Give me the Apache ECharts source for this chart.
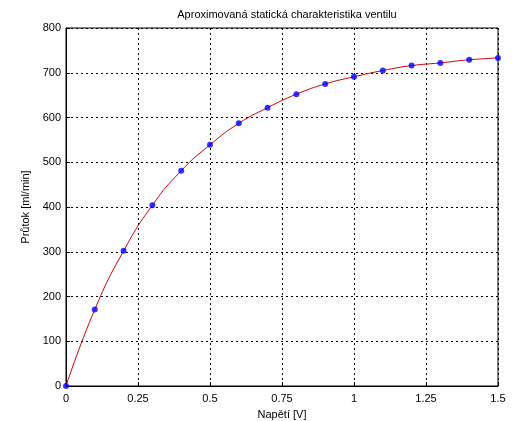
<!DOCTYPE html>
<html>
<head>
<meta charset="utf-8">
<script src="https://cdn.jsdelivr.net/npm/echarts@6/dist/echarts.min.js"></script>
<style>html,body{margin:0;padding:0;background:#fff}#c{width:515px;height:421px}</style>
</head>
<body>
<div id="c"></div>
<script>
const voltage = [0, 0.1, 0.2, 0.3, 0.4, 0.5, 0.6, 0.7, 0.8, 0.9, 1.0, 1.1, 1.2, 1.3, 1.4, 1.5];
const flow = [0, 171, 302, 404, 481, 539, 587, 622, 652, 675, 691, 705, 716, 722, 729, 733];
const title = 'Aproximovaná statická charakteristika ventilu';
const xName = 'Napětí [V]';
const yName = 'Průtok [ml/min]';

const pts = voltage.map((v, i) => [v, flow[i]]);
const font = 'Liberation Sans, Arial, sans-serif';
const chart = echarts.init(document.getElementById('c'), null, {renderer: 'canvas'});
chart.setOption({
  animation: false,
  backgroundColor: '#fff',
  title: {
    text: title, left: 282, top: 4, textAlign: 'center',
    textStyle: {fontFamily: font, fontSize: 11, fontWeight: 'normal', color: '#000'}
  },
  grid: {left: 66, right: 17, top: 28, bottom: 35, show: true, borderColor: '#000', borderWidth: 1,
         backgroundColor: 'transparent', containLabel: false, outerBoundsMode: 'none'},
  xAxis: {
    type: 'value', min: 0, max: 1.5, interval: 0.25,
    name: xName, nameLocation: 'middle', nameGap: 23,
    nameTextStyle: {fontFamily: font, fontSize: 11, color: '#000'},
    axisLine: {show: true, lineStyle: {color: '#000'}},
    axisTick: {show: true, inside: true, length: 4, lineStyle: {color: '#000'}},
    axisLabel: {fontFamily: font, fontSize: 11, color: '#000', margin: 7},
    splitLine: {show: true, lineStyle: {color: '#000', type: [2, 3], width: 1}}
  },
  yAxis: {
    type: 'value', min: 0, max: 800, interval: 100,
    name: yName, nameLocation: 'middle', nameGap: 28,
    nameTextStyle: {fontFamily: font, fontSize: 11, color: '#000'},
    axisLine: {show: true, lineStyle: {color: '#000'}},
    axisTick: {show: true, inside: true, length: 4, lineStyle: {color: '#000'}},
    axisLabel: {fontFamily: font, fontSize: 11, color: '#000', margin: 5},
    splitLine: {show: true, lineStyle: {color: '#000', type: [2, 3], width: 1}}
  },
  series: [
    {
      type: 'line', data: pts, smooth: 0.5, showSymbol: false,
      lineStyle: {color: '#d00000', width: 1}, z: 2
    },
    {
      type: 'scatter', data: pts, symbol: 'circle', symbolSize: 6,
      itemStyle: {color: '#0000ff'}, z: 3
    }
  ]
});
</script>
</body>
</html>
